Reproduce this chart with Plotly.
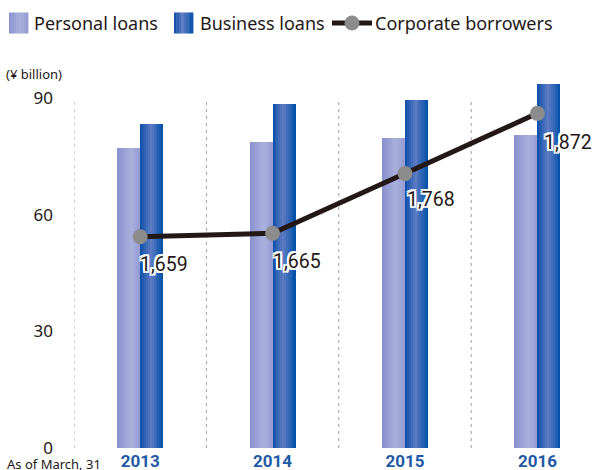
import plotly.graph_objects as go

# ---------------- data ----------------
years = ["2013", "2014", "2015", "2016"]
personal_loans = [77.1, 78.7, 79.7, 80.5]      # ¥ billion
business_loans = [83.3, 88.5, 89.4, 93.6]      # ¥ billion
corporate_borrowers = [1659, 1665, 1768, 1872]  # count
y_ticks = [0, 30, 60, 90]
series_names = ["Personal loans", "Business loans", "Corporate borrowers"]

# ---------------- layout constants ----------------
W, H = 593, 470
ML, MR, MT, MB = 74, 0, 78, 22
PW, PH = W - ML - MR, H - MT - MB
TXT = "#231815"
BLUE_TXT = "#1f5aa5"
FONT = "Noto Sans"
NUM_FONT = "Roboto, Noto Sans, sans-serif"

PERSONAL_STOPS = [(0.0, "#8790cd"), (0.6, "#aab0dc"), (1.0, "#939bd3")]
BUSINESS_STOPS = [(0.0, "#0b4ea7"), (0.45, "#5e7cc3"), (1.0, "#0050a8")]
BAR_W = 0.174
NSTRIP = 12


def hex2rgb(h):
    h = h.lstrip("#")
    return tuple(int(h[i:i + 2], 16) for i in (0, 2, 4))


def grad(stops, t):
    for (t0, c0), (t1, c1) in zip(stops[:-1], stops[1:]):
        if t0 <= t <= t1:
            f = (t - t0) / (t1 - t0)
            a, b = hex2rgb(c0), hex2rgb(c1)
            r = [round(a[k] + (b[k] - a[k]) * f) for k in range(3)]
            return "rgb(%d,%d,%d)" % tuple(r)
    return stops[-1][1]


def px_x(px):
    return (px - ML) / PW


def px_y(py):
    return (H - MB - py) / PH


fig = go.Figure()

# gradient bars built from thin strips
for stops, vals, off0, name in [
    (PERSONAL_STOPS, personal_loans, -BAR_W, series_names[0]),
    (BUSINESS_STOPS, business_loans, 0.0, series_names[1]),
]:
    sw = BAR_W / NSTRIP
    for i in range(NSTRIP):
        t = (i + 0.5) / NSTRIP
        w = sw + (0.004 if i < NSTRIP - 1 else 0)
        fig.add_bar(
            x=years, y=vals, offset=off0 + i * sw, width=w,
            marker=dict(color=grad(stops, t), line=dict(width=0)),
            name=name, showlegend=False, hoverinfo="skip",
        )

# line for corporate borrowers on hidden secondary axis
fig.add_scatter(
    x=years, y=corporate_borrowers, yaxis="y2", mode="lines+markers",
    name=series_names[2], showlegend=False, cliponaxis=False,
    line=dict(color=TXT, width=5),
    marker=dict(size=15, color="#8c8c8c", line=dict(width=0)),
)

shapes = []
# dashed separators between categories
for i in range(len(years)):
    shapes.append(dict(
        type="line", xref="x", yref="y", x0=i - 0.5, x1=i - 0.5, y0=0, y1=y_ticks[-1],
        line=dict(color="#a0a0a0", width=1, dash="3px,4px"), layer="below",
    ))

annotations = []
# data labels
label_dx = [-2, -2, 0, 5]
label_dy = [28, 28, 26, 29]
WHITE_HALO = ("2px 0 0 #fff, -2px 0 0 #fff, 0 2px 0 #fff, 0 -2px 0 #fff, "
              "2px 2px 0 #fff, -2px -2px 0 #fff, 2px -2px 0 #fff, -2px 2px 0 #fff")
for i, v in enumerate(corporate_borrowers):
    annotations.append(dict(
        x=i, y=v, xref="x", yref="y2", text=f"{v:,}", showarrow=False,
        xanchor="left", yanchor="middle", xshift=label_dx[i], yshift=-label_dy[i],
        font=dict(family=NUM_FONT, size=19.5, color=TXT, shadow=WHITE_HALO),
    ))

# custom legend
LEG_Y = 23
for stops, x0 in [(PERSONAL_STOPS, 9), (BUSINESS_STOPS, 174)]:
    n = 8
    for i in range(n):
        t = (i + 0.5) / n
        shapes.append(dict(
            type="rect", xref="paper", yref="paper",
            x0=px_x(x0 + i * 19 / n), x1=px_x(x0 + (i + 1) * 19 / n + 0.4),
            y0=px_y(LEG_Y + 10.5), y1=px_y(LEG_Y - 10.5),
            fillcolor=grad(stops, t), line=dict(width=0), layer="above",
        ))
shapes.append(dict(type="line", xref="paper", yref="paper",
                   x0=px_x(332), x1=px_x(372), y0=px_y(LEG_Y), y1=px_y(LEG_Y),
                   line=dict(color=TXT, width=5)))
shapes.append(dict(type="circle", xref="paper", yref="paper",
                   x0=px_x(344.5), x1=px_x(359.5), y0=px_y(LEG_Y + 7.5), y1=px_y(LEG_Y - 7.5),
                   fillcolor="#8c8c8c", line=dict(width=0)))
for name, x0 in zip(series_names, [32, 198, 373]):
    annotations.append(dict(
        x=px_x(x0), y=px_y(LEG_Y), xref="paper", yref="paper", text=name,
        showarrow=False, xanchor="left", yanchor="middle",
        font=dict(family=FONT, size=18, color=TXT),
    ))

annotations.append(dict(
    x=px_x(4), y=px_y(74), xref="paper", yref="paper", text="(¥ billion)",
    showarrow=False, xanchor="left", yanchor="middle",
    font=dict(family=FONT, size=13, color=TXT),
))
annotations.append(dict(
    x=px_x(5), y=px_y(464), xref="paper", yref="paper", text="As of March, 31",
    showarrow=False, xanchor="left", yanchor="middle",
    font=dict(family=FONT, size=13, color=TXT),
))

fig.update_layout(
    width=W, height=H,
    margin=dict(l=ML, r=MR, t=MT, b=MB, pad=0, autoexpand=False),
    paper_bgcolor="white", plot_bgcolor="white",
    barmode="overlay", bargap=0,
    showlegend=False,
    xaxis=dict(type="category", range=[-0.5, 3.42], showgrid=False, zeroline=False,
               showline=False, ticks="", ticklabelstandoff=1, automargin=False,
               tickfont=dict(family=NUM_FONT, size=17, color=BLUE_TXT, weight="bold")),
    yaxis=dict(range=[0, 95.14], tickvals=y_ticks, showgrid=False, zeroline=False,
               showline=False, ticks="", ticklabelstandoff=20, automargin=False,
               tickfont=dict(family=FONT, size=17, color=TXT)),
    yaxis2=dict(overlaying="y", range=[1294.3, 1933], visible=False, automargin=False),
    shapes=shapes, annotations=annotations,
)

fig.write_html(
    "out.html",
    config={"displayModeBar": False, "responsive": False},
    post_script="document.body.style.margin='0px';document.body.style.overflow='hidden';",
)
